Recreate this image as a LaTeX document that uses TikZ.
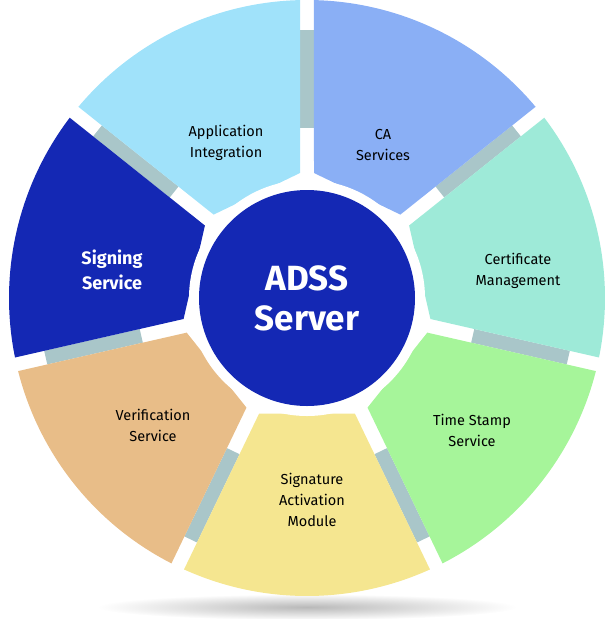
\documentclass[tikz,border=0pt]{standalone}
\usepackage{fontspec}
\setmainfont{Fira Sans}
\usetikzlibrary{calc}
\definecolor{appblue}{HTML}{A0E2FA}
\definecolor{cablue}{HTML}{8AAFF5}
\definecolor{certgreen}{HTML}{9EEAD8}
\definecolor{tsgreen}{HTML}{A6F59A}
\definecolor{samyellow}{HTML}{F5E690}
\definecolor{verorange}{HTML}{E8BD88}
\definecolor{signblue}{HTML}{1428B4}
\definecolor{stripgray}{HTML}{A9C6C9}
\tikzset{
  seglabel/.style={align=center,font=\fontsize{14.5}{21}\selectfont,text=black},
  strip/.style={stripgray,line width=14pt}
}
\begin{document}
\begin{tikzpicture}[x=1pt,y=1pt]
\useasboundingbox (0,-619) rectangle (615,0);

\coordinate (c) at (307,-298);

% shadow
\shade[inner color=gray!55,outer color=white] (307,-607) ellipse [x radius=210,y radius=13];

% strips in the gaps
\foreach \k in {0,...,6}{
  \pgfmathsetmacro{\b}{-90+25.714+51.4286*\k}
  \draw[strip] ($(c)+(\b:170)$) -- ($(c)+(\b:268)$);
}

% segments
\foreach \k/\col in {0/samyellow,1/tsgreen,2/certgreen,3/cablue,4/appblue,5/signblue,6/verorange}{
  \pgfmathsetmacro{\ba}{-90-25.714+51.4286*\k}
  \pgfmathsetmacro{\bb}{-90+25.714+51.4286*\k}
  \fill[\col] ($(c)+(\ba:125)+(\ba+90:7)$) -- ($(c)+(\ba+1.34:298)$)
    arc[start angle=\ba+1.34,end angle=\bb-1.34,radius=298]
    -- ($(c)+(\bb:125)+(\bb-90:7)$) -- cycle;
}

% centre
\fill[white] (c) circle (118);
\node[circle,fill=signblue,minimum size=216pt,inner sep=0pt,align=center,
  text=white,font=\bfseries\fontsize{35}{40}\selectfont] (server) at (c) {ADSS\\Server};

\node[seglabel] (app) at (226,-143) {Application\\Integration};
\node[seglabel] (ca) at (383,-145) {CA\\Services};
\node[seglabel] (cert) at (518,-271) {Certificate\\Management};
\node[seglabel] (ts) at (472,-430) {Time Stamp\\Service};
\node[seglabel] (sam) at (312,-500) {Signature\\Activation\\Module};
\node[seglabel] (ver) at (153,-425) {Verification\\Service};
\node[seglabel,text=white,font=\bfseries\fontsize{18}{25}\selectfont] (sign) at (112,-270) {Signing\\Service};

\end{tikzpicture}
\end{document}
